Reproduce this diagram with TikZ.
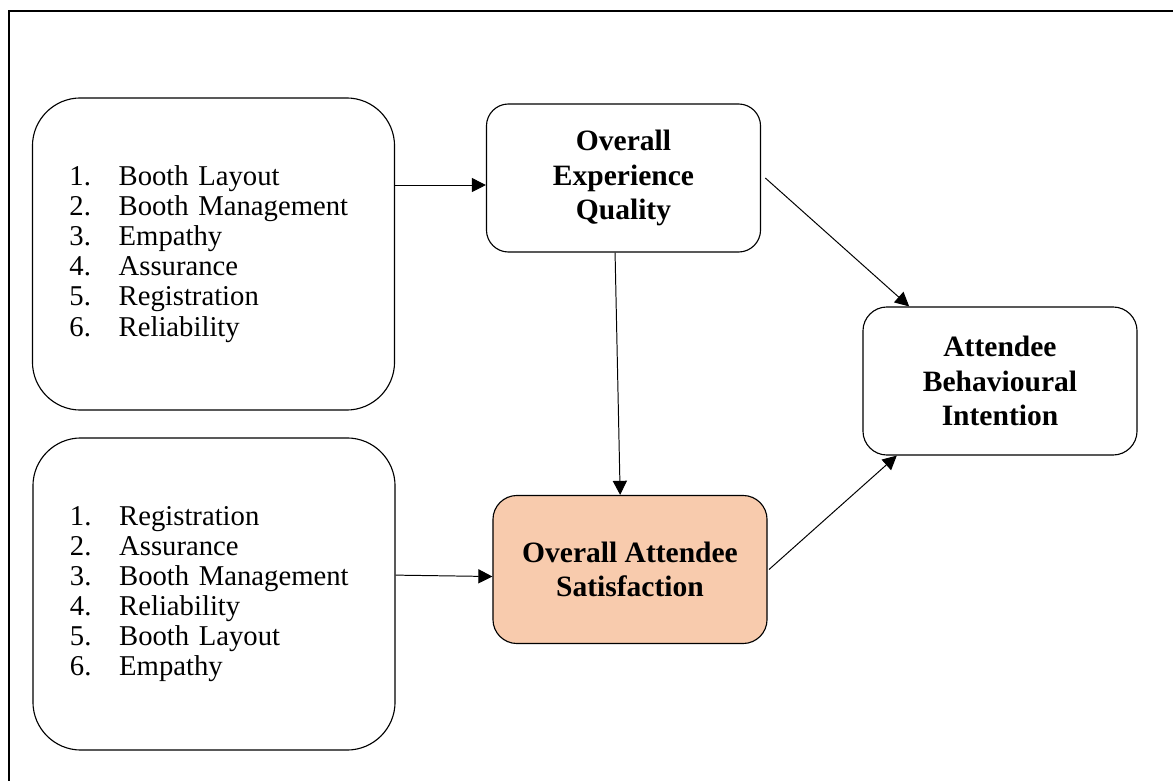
\documentclass[tikz,border=0pt]{standalone}
\usepackage{fontspec}
\setmainfont{Liberation Serif}
\usetikzlibrary{arrows.meta, calc}
\definecolor{cpeach}{HTML}{F8CBAD}
\tikzset{
  every picture/.style={line width=0.8pt},
  listbox/.style={draw, rounded corners=1.2cm, align=left, text width=7.2cm, inner xsep=0.9cm,
    minimum width=9.05cm, minimum height=7.8cm, font=\fontsize{20.4}{21.4}\selectfont},
  varbox/.style={draw, rounded corners=0.55cm, align=center, minimum width=6.85cm, minimum height=3.7cm,
    font=\fontsize{21}{24.5}\selectfont\bfseries},
  arrow/.style={-{Triangle[length=10pt, width=10pt]}, line width=0.7pt},
}
\newcommand{\itm}[1]{\makebox[35pt][l]{#1}}

\begin{document}
\begin{tikzpicture}[x=0.025cm, y=-0.025cm]
  \useasboundingbox (0,0) rectangle (1173,781);
  \draw[line width=1.5pt] (1173,11) -- (9,11) -- (9,781);
  % factor lists
  \node[listbox] (lista) at (213.5,254) {\itm{1.}Booth Layout\\ \itm{2.}Booth Management\\ \itm{3.}Empathy\\
    \itm{4.}Assurance\\ \itm{5.}Registration\\ \itm{6.}Reliability};
  \node[listbox] (listb) at (214,594) {\itm{1.}Registration\\ \itm{2.}Assurance\\ \itm{3.}Booth Management\\
    \itm{4.}Reliability\\ \itm{5.}Booth Layout\\ \itm{6.}Empathy};
  % constructs
  \node[varbox] (quality) at (623.5,178) {Overall\\ Experience\\ Quality};
  \node[varbox, fill=cpeach, rounded corners=0.6cm] (satis) at (630,569.5) {Overall Attendee\\ Satisfaction};
  \node[varbox, rounded corners=0.6cm] (intent) at (1000,381) {Attendee\\ Behavioural\\ Intention};
  \draw[arrow] ([yshift=-5pt]lista.east |- quality.west) -- ([yshift=-5pt]quality.west);
  \draw[arrow] ([yshift=-4pt]listb.east |- satis.west) -- ([yshift=-5pt]satis.west);
  \draw[arrow] ([xshift=-6pt]quality.south) -- ([xshift=-7pt]satis.north);
  \draw[arrow] ([xshift=3pt]quality.east) -- ($(intent.north west)!0.17!(intent.north east)$);
  \draw[arrow] ([xshift=1pt]satis.east) -- ($(intent.south west)!0.125!(intent.south east)$);
\end{tikzpicture}
\end{document}
